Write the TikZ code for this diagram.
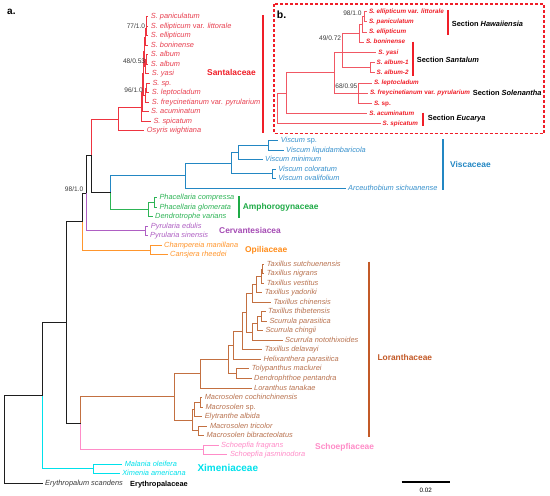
\documentclass[tikz,border=0pt]{standalone}
\usepackage{fontspec}
\setmainfont{Liberation Sans}
\definecolor{cK}{RGB}{30,30,30}
\definecolor{cS}{RGB}{238,52,64}
\definecolor{cSt}{RGB}{232,64,80}
\definecolor{cSb}{RGB}{240,88,100}
\definecolor{cSbar}{RGB}{240,30,40}
\definecolor{cV}{RGB}{35,135,195}
\definecolor{cVt}{RGB}{55,145,205}
\definecolor{cA}{RGB}{45,180,85}
\definecolor{cAt}{RGB}{30,170,70}
\definecolor{cC}{RGB}{175,95,195}
\definecolor{cCt}{RGB}{165,75,180}
\definecolor{cO}{RGB}{255,150,45}
\definecolor{cOt}{RGB}{255,140,25}
\definecolor{cL}{RGB}{195,112,65}
\definecolor{cLt}{RGB}{185,115,80}
\definecolor{cLbar}{RGB}{195,90,40}
\definecolor{cP}{RGB}{255,140,200}
\definecolor{cX}{RGB}{0,225,235}
\definecolor{cN}{RGB}{60,60,60}
\tikzset{
  br/.style={line width=0.9pt},
  leaf/.style={anchor=west, inner xsep=2.5pt, inner ysep=0pt, font=\fontsize{7.4}{8}\selectfont\itshape, text height=5.2pt, text depth=1.2pt},
  bleaf/.style={anchor=west, inner xsep=2pt, inner ysep=0pt, font=\fontsize{6.3}{7}\selectfont\bfseries\itshape, text height=4.5pt, text depth=1pt, text=cSbar},
  fam/.style={anchor=west, inner sep=0pt, font=\fontsize{8.4}{9}\selectfont\bfseries},
  sect/.style={anchor=west, inner sep=0pt, font=\fontsize{7.4}{8}\selectfont\bfseries, text=black},
  supp/.style={anchor=east, inner sep=0pt, font=\fontsize{6.6}{7}\selectfont, text=cN},
  fambar/.style={line width=2pt},
}
\begin{document}
\begin{tikzpicture}[x=1pt,y=-1pt]
\useasboundingbox (0,0) rectangle (550,496);
\fill[white] (0,0) rectangle (550,496);

% ---------- panel a labels ----------
\node[anchor=west, inner sep=0pt, font=\fontsize{10}{11}\selectfont\bfseries] (pa) at (7,11.7) {a.};

% Santalaceae tips
\node[leaf,text=cSt] (t0) at (148.2,16.7) {S. paniculatum};
\node[leaf,text=cSt] (t1) at (148.2,26.2) {S. ellipticum \textup{var.} littorale};
\node[leaf,text=cSt] (t2) at (148.2,35.7) {S. ellipticum};
\node[leaf,text=cSt] (t3) at (148.2,45.3) {S. boninense};
\node[leaf,text=cSt] (t4) at (148.2,54.8) {S. album};
\node[leaf,text=cSt] (t5) at (148.2,64.3) {S. album};
\node[leaf,text=cSt] (t6) at (149.2,73.8) {S. yasi};
\node[leaf,text=cSt] (t7) at (149.8,83.3) {S. sp.};
\node[leaf,text=cSt] (t8) at (149.2,92.9) {S. leptocladum};
\node[leaf,text=cSt] (t9) at (149.2,102.4) {S. freycinetianum \textup{var.} pyrularium};
\node[leaf,text=cSt] (t10) at (148.5,111.9) {S. acuminatum};
\node[leaf,text=cSt] (t11) at (150.8,121.4) {S. spicatum};
\node[leaf,text=cSt] (t12) at (144.2,130.9) {Osyris wightiana};
% Viscaceae
\node[leaf,text=cVt] (t13) at (278.2,140.5) {Viscum \textup{sp.}};
\node[leaf,text=cVt] (t14) at (283.5,150.0) {Viscum liquidambaricola};
\node[leaf,text=cVt] (t15) at (262.5,159.5) {Viscum minimum};
\node[leaf,text=cVt] (t16) at (275.7,169.0) {Viscum coloratum};
\node[leaf,text=cVt] (t17) at (275.7,178.5) {Viscum ovalifolium};
\node[leaf,text=cVt] (t18) at (345.5,188.1) {Arceuthobium sichuanense};
% Amphorogynaceae
\node[leaf,text=cA] (t19) at (156.8,197.6) {Phacellaria compressa};
\node[leaf,text=cA] (t20) at (156.8,207.1) {Phacellaria glomerata};
\node[leaf,text=cA] (t21) at (152.5,216.6) {Dendrotrophe varians};
% Cervantesiaceae
\node[leaf,text=cC] (t22) at (148.2,226.1) {Pyrularia edulis};
\node[leaf,text=cC] (t23) at (147.5,235.6) {Pyrularia sinensis};
% Opiliaceae
\node[leaf,text=cO] (t24) at (161.5,245.2) {Champereia manillana};
\node[leaf,text=cO] (t25) at (167.5,254.7) {Cansjera rheedei};
% Loranthaceae
\node[leaf,text=cLt] (t26) at (264.2,264.2) {Taxillus sutchuenensis};
\node[leaf,text=cLt] (t27) at (264.2,273.7) {Taxillus nigrans};
\node[leaf,text=cLt] (t28) at (264.2,283.2) {Taxillus vestitus};
\node[leaf,text=cLt] (t29) at (262.2,292.8) {Taxillus yadoriki};
\node[leaf,text=cLt] (t30) at (270.8,302.3) {Taxillus chinensis};
\node[leaf,text=cLt] (t31) at (265.5,311.8) {Taxillus thibetensis};
\node[leaf,text=cLt] (t32) at (266.8,321.3) {Scurrula parasitica};
\node[leaf,text=cLt] (t33) at (262.8,330.8) {Scurrula chingii};
\node[leaf,text=cLt] (t34) at (282.5,340.4) {Scurrula notothixoides};
\node[leaf,text=cLt] (t35) at (262.2,349.9) {Taxillus delavayi};
\node[leaf,text=cLt] (t36) at (260.8,359.4) {Helixanthera parasitica};
\node[leaf,text=cLt] (t37) at (249.2,368.9) {Tolypanthus maclurei};
\node[leaf,text=cLt] (t38) at (251.5,378.4) {Dendrophthoe pentandra};
\node[leaf,text=cLt] (t39) at (251.5,388.0) {Loranthus tanakae};
\node[leaf,text=cLt] (t40) at (202.1,397.5) {Macrosolen cochinchinensis};
\node[leaf,text=cLt] (t41) at (202.8,407.0) {Macrosolen \textup{sp.}};
\node[leaf,text=cLt] (t42) at (202.1,416.5) {Elytranthe albida};
\node[leaf,text=cLt] (t43) at (207.3,426.0) {Macrosolen tricolor};
\node[leaf,text=cLt] (t44) at (203.8,435.6) {Macrosolen bibracteolatus};
% Schoepfiaceae
\node[leaf,text=cP] (t45) at (218.5,445.1) {Schoepfia fragrans};
\node[leaf,text=cP] (t46) at (227.3,454.6) {Schoepfia jasminodora};
% Ximeniaceae
\node[leaf,text=cX] (t47) at (122.1,464.1) {Malania oleifera};
\node[leaf,text=cX] (t48) at (119.6,473.6) {Ximenia americana};
% Erythropalaceae
\node[leaf,text=cN] (t49) at (42.5,483.2) {Erythropalum scandens};

% internal nodes panel a
\coordinate (H1) at (146.7,21.45);
\coordinate (H2) at (146.2,28.6);
\coordinate (H3) at (145.7,36.95);
\coordinate (Sa1) at (146.2,59.55);
\coordinate (Sa2) at (145.5,66.7);
\coordinate (HS) at (144.8,51.8);
\coordinate (So1) at (146.5,88.1);
\coordinate (So2) at (145.8,95.25);
\coordinate (S3) at (143.8,73.5);
\coordinate (S2) at (142.8,92.7);
\coordinate (S1) at (141.7,107.05);
\coordinate (S0) at (118.3,119.0);
\coordinate (V4) at (268.7,145.25);
\coordinate (V2) at (238.2,152.4);
\coordinate (V3) at (272.5,173.75);
\coordinate (V1) at (231.3,163.1);
\coordinate (V0) at (185.5,175.6);
\coordinate (Ph) at (154.3,202.35);
\coordinate (A0) at (148.7,209.5);
\coordinate (VA) at (110.7,192.55);
\coordinate (C3) at (91.7,155.8);
\coordinate (Cv) at (145.7,230.85);
\coordinate (C2) at (86.0,193.3);
\coordinate (Op) at (150.0,249.95);
\coordinate (C) at (82.3,221.6);
\coordinate (T1) at (262.6,268.95);
\coordinate (T2) at (261.2,276.1);
\coordinate (T3) at (256.5,284.45);
\coordinate (T4) at (252.2,293.4);
\coordinate (Sc1) at (261.0,316.55);
\coordinate (Sc2) at (257.5,323.7);
\coordinate (Sc3) at (252.3,332.05);
\coordinate (LTS) at (246.7,312.7);
\coordinate (LD) at (242.1,331.3);
\coordinate (LH) at (233.3,345.35);
\coordinate (TD) at (236.0,373.65);
\coordinate (L2) at (228.8,359.5);
\coordinate (L1) at (200.7,373.75);
\coordinate (M1a) at (200.5,402.25);
\coordinate (M1) at (194.7,409.4);
\coordinate (M2) at (198.2,430.8);
\coordinate (M) at (192.3,420.1);
\coordinate (L0) at (174.7,396.9);
\coordinate (Sch) at (203.5,449.85);
\coordinate (D) at (80.7,423.4);
\coordinate (B) at (66.0,322.5);
\coordinate (Xm) at (93.0,468.85);
\coordinate (A) at (42.0,395.7);
\coordinate (R) at (4.2,439.45);

% Santalaceae branches
\begin{scope}[br,cS]
\draw (H1) |- (t0); \draw (H1) |- (t1);
\draw (H2) |- (H1); \draw (H2) |- (t2);
\draw (H3) |- (H2); \draw (H3) |- (t3);
\draw (Sa1) |- (t4); \draw (Sa1) |- (t5);
\draw (Sa2) |- (Sa1); \draw (Sa2) |- (t6);
\draw (HS) |- (H3); \draw (HS) |- (Sa2);
\draw (So1) |- (t7); \draw (So1) |- (t8);
\draw (So2) |- (So1); \draw (So2) |- (t9);
\draw (S3) |- (HS); \draw (S3) |- (So2);
\draw (S2) |- (S3); \draw (S2) |- (t10);
\draw (S1) |- (S2); \draw (S1) |- (t11);
\draw (S0) |- (S1); \draw (S0) |- (t12);
\draw (C3) |- (S0);
\end{scope}
% Viscaceae
\begin{scope}[br,cV]
\draw (V4) |- (t13); \draw (V4) |- (t14);
\draw (V2) |- (V4); \draw (V2) |- (t15);
\draw (V3) |- (t16); \draw (V3) |- (t17);
\draw (V1) |- (V2); \draw (V1) |- (V3);
\draw (V0) |- (V1); \draw (V0) |- (t18);
\draw (VA) |- (V0);
\end{scope}
% Amphorogynaceae
\begin{scope}[br,cA]
\draw (Ph) |- (t19); \draw (Ph) |- (t20);
\draw (A0) |- (Ph); \draw (A0) |- (t21);
\draw (VA) |- (A0);
\end{scope}
% Cervantesiaceae
\begin{scope}[br,cC]
\draw (Cv) |- (t22); \draw (Cv) |- (t23);
\draw (C2) |- (Cv);
\end{scope}
% Opiliaceae
\begin{scope}[br,cO]
\draw (Op) |- (t24); \draw (Op) |- (t25);
\draw (C) |- (Op);
\end{scope}
% Loranthaceae
\begin{scope}[br,cL]
\draw (T1) |- (t26); \draw (T1) |- (t27);
\draw (T2) |- (T1); \draw (T2) |- (t28);
\draw (T3) |- (T2); \draw (T3) |- (t29);
\draw (T4) |- (T3); \draw (T4) |- (t30);
\draw (Sc1) |- (t31); \draw (Sc1) |- (t32);
\draw (Sc2) |- (Sc1); \draw (Sc2) |- (t33);
\draw (Sc3) |- (Sc2); \draw (Sc3) |- (t34);
\draw (LTS) |- (T4); \draw (LTS) |- (Sc3);
\draw (LD) |- (LTS); \draw (LD) |- (t35);
\draw (LH) |- (LD); \draw (LH) |- (t36);
\draw (TD) |- (t37); \draw (TD) |- (t38);
\draw (L2) |- (LH); \draw (L2) |- (TD);
\draw (L1) |- (L2); \draw (L1) |- (t39);
\draw (M1a) |- (t40); \draw (M1a) |- (t41);
\draw (M1) |- (M1a); \draw (M1) |- (t42);
\draw (M2) |- (t43); \draw (M2) |- (t44);
\draw (M) |- (M1); \draw (M) |- (M2);
\draw (L0) |- (L1); \draw (L0) |- (M);
\draw (D) |- (L0);
\end{scope}
% Schoepfiaceae
\begin{scope}[br,cP]
\draw (Sch) |- (t45); \draw (Sch) |- (t46);
\draw (D) |- (Sch);
\end{scope}
% Ximeniaceae
\begin{scope}[br,cX]
\draw (Xm) |- (t47); \draw (Xm) |- (t48);
\draw (A) |- (Xm);
\end{scope}
% backbone
\begin{scope}[br,cK]
\draw (C3) |- (VA);
\draw (C2) |- (C3);
\draw (C) |- (C2);
\draw (B) |- (C); \draw (B) |- (D);
\draw (A) |- (B);
\draw (R) |- (A); \draw (R) |- (t49);
\end{scope}

% support values panel a
\node[supp] (n1) at (145.3,26.4) {77/1.0};
\node[supp] (n2) at (145.3,61.2) {48/0.53};
\node[supp] (n3) at (142.9,90.2) {96/1.0};
\node[supp] (n4) at (83.5,189.6) {98/1.0};

% family bars and labels
\coordinate (bS1) at (262.7,15); \coordinate (bS2) at (262.7,132.5);
\draw[fambar,draw=cSbar] (bS1) -- (bS2);
\node[fam,text=cSbar] (fS) at (207,72.5) {Santalaceae};
\coordinate (bV1) at (443.3,139.3); \coordinate (bV2) at (443.3,190);
\draw[fambar,draw=cV] (bV1) -- (bV2);
\node[fam,text=cV] (fV) at (450,164.7) {Viscaceae};
\coordinate (bA1) at (238.7,196); \coordinate (bA2) at (238.7,218.3);
\draw[fambar,draw=cAt] (bA1) -- (bA2);
\node[fam,text=cAt] (fA) at (242.7,207.7) {Amphorogynaceae};
\node[fam,text=cCt] (fC) at (219,230.7) {Cervantesiacea};
\node[fam,text=cOt] (fO) at (245,250) {Opiliaceae};
\coordinate (bL1) at (368.7,261.7); \coordinate (bL2) at (368.7,437.3);
\draw[fambar,draw=cLbar] (bL1) -- (bL2);
\node[fam,text=cLbar] (fL) at (377.3,357.3) {Loranthaceae};
\node[fam,text=cP] (fP) at (315,447.7) {Schoepfiaceae};
\node[fam,text=cX,font=\fontsize{10}{11}\selectfont\bfseries] (fX) at (197.3,468.3) {Ximeniaceae};
\node[fam,text=black,font=\fontsize{7.4}{8}\selectfont\bfseries] (fE) at (130,484.3) {Erythropalaceae};

% scale bar
\coordinate (sb1) at (401.7,482); \coordinate (sb2) at (450,482);
\draw[line width=1.1pt,black] (sb1) -- (sb2);
\node[inner sep=0pt,font=\fontsize{6.3}{7}\selectfont] (sbl) at (425.8,490.5) {0.02};

% ---------- panel b ----------
\coordinate (box1) at (274,4); \coordinate (box2) at (544,133.3);
\draw[draw=cSbar,line width=1.3pt,dash pattern=on 3pt off 2pt] (box1) rectangle (box2);
\node[anchor=west, inner sep=0pt, font=\fontsize{10.5}{11}\selectfont\bfseries] (pb) at (276.7,14.3) {b.};

\node[bleaf] (bt0) at (366.8,11.7) {S. ellipticum \textup{var.} littorale};
\node[bleaf] (bt1) at (366.8,21.9) {S. paniculatum};
\node[bleaf] (bt2) at (366.8,32.1) {S. ellipticum};
\node[bleaf] (bt3) at (363.8,42.2) {S. boninense};
\node[bleaf] (bt4) at (376.1,52.4) {S. yasi};
\node[bleaf] (bt5) at (374.5,62.6) {S. album-1};
\node[bleaf] (bt6) at (374.5,72.8) {S. album-2};
\node[bleaf] (bt7) at (371.8,83.0) {S. leptocladum};
\node[bleaf] (bt8) at (367.8,93.1) {S. freycinetianum \textup{var.} pyrularium};
\node[bleaf] (bt9) at (371.8,103.3) {S. \textup{sp.}};
\node[bleaf] (bt10) at (367.1,113.5) {S. acuminatum};
\node[bleaf] (bt11) at (380.5,123.7) {S. spicatum};

\coordinate (bH1) at (364,16.8);
\coordinate (bH2) at (362.3,24.45);
\coordinate (bH3) at (359.3,33.3);
\coordinate (bAl) at (370,67.7);
\coordinate (bHS) at (342,52.4);
\coordinate (bSol) at (358.5,93.1);
\coordinate (bN2) at (334.3,72.75);
\coordinate (bN1) at (286,93.1);
\coordinate (bR) at (277.3,108.4);

\begin{scope}[br,cSb]
\draw (bH1) |- (bt0); \draw (bH1) |- (bt1);
\draw (bH2) |- (bH1); \draw (bH2) |- (bt2);
\draw (bH3) |- (bH2); \draw (bH3) |- (bt3);
\draw (bAl) |- (bt5); \draw (bAl) |- (bt6);
\draw (bHS) |- (bH3); \draw (bHS) |- (bt4); \draw (bHS) |- (bAl);
\draw (bSol) |- (bt7); \draw (bSol) |- (bt8); \draw (bSol) |- (bt9);
\draw (bN2) |- (bHS); \draw (bN2) |- (bSol);
\draw (bN1) |- (bN2); \draw (bN1) |- (bt10);
\draw (bR) |- (bN1); \draw (bR) |- (bt11);
\end{scope}

\node[supp] (bn1) at (361.8,13.5) {98/1.0};
\node[supp] (bn2) at (341.3,38.3) {49/0.72};
\node[supp] (bn3) at (357.6,86.0) {68/0.95};

% sections
\coordinate (sH1) at (447.7,10); \coordinate (sH2) at (447.7,35);
\draw[line width=1.7pt,color=cSbar] (sH1) -- (sH2);
\node[sect] (secH) at (451.7,24) {Section \textit{Hawaiiensia}};
\coordinate (sS1) at (413.3,41.7); \coordinate (sS2) at (413.3,76);
\draw[line width=1.7pt,color=cSbar] (sS1) -- (sS2);
\node[sect] (secS) at (416.7,60) {Section \textit{Santalum}};
\node[sect] (secSo) at (472.7,92.7) {Section \textit{Solenantha}};
\coordinate (sE1) at (423.3,112.7); \coordinate (sE2) at (423.3,126);
\draw[line width=1.7pt,color=cSbar] (sE1) -- (sE2);
\node[sect] (secE) at (427.7,119) {Section \textit{Eucarya}};
\end{tikzpicture}
\end{document}
